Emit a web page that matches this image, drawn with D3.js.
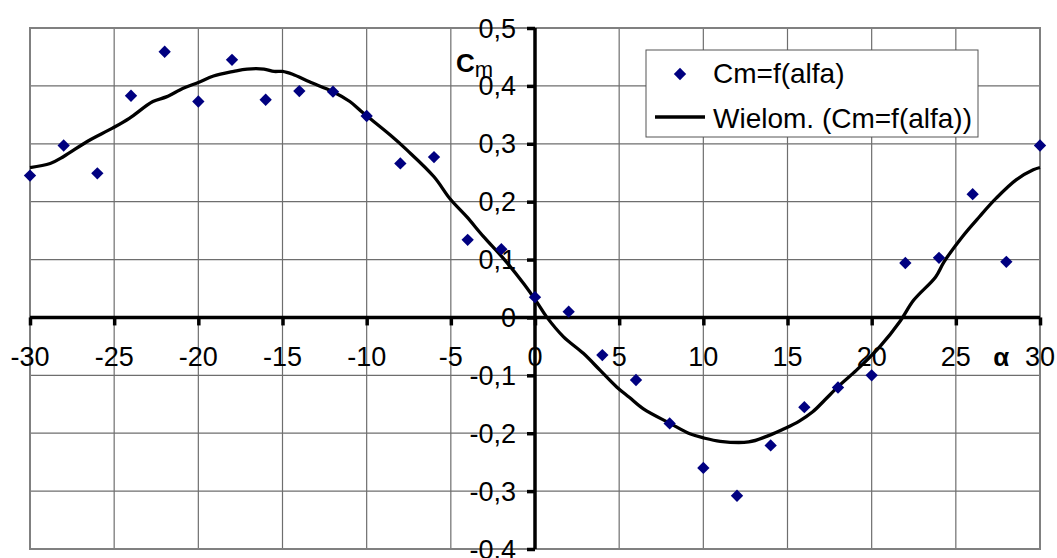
<!DOCTYPE html>
<html>
<head>
<meta charset="utf-8">
<script src="https://cdn.jsdelivr.net/npm/d3@7"></script>
<style>
  html, body { margin: 0; padding: 0; background: #fff; }
  svg text { font-family: "Liberation Sans", Arial, sans-serif; }
</style>
</head>
<body>
<svg id="chart" width="1057" height="558"></svg>
<script>
// Measured pitching-moment coefficient versus angle of attack
const alpha = [-30, -28, -26, -24, -22, -20, -18, -16, -14, -12, -10, -8, -6, -4, -2, 0,
               2, 4, 6, 8, 10, 12, 14, 16, 18, 20, 22, 24, 26, 28, 30];
const cm = [0.245, 0.297, 0.249, 0.383, 0.459, 0.373, 0.445, 0.376, 0.391, 0.390, 0.348,
            0.266, 0.277, 0.134, 0.118, 0.035, 0.010, -0.065, -0.108, -0.183, -0.260,
            -0.308, -0.221, -0.155, -0.121, -0.100, 0.094, 0.103, 0.213, 0.096, 0.297];

// Polynomial trendline ("Wielom.") as plotted
const trendAlpha = [-30, -28.8, -28, -26.6, -25.1, -24.1, -22.7, -21.9, -20.9, -20, -19.1,
                    -17.9, -17.1, -16.1, -15.5, -15.0, -14.4, -13.4, -12, -11, -10.2, -8.6,
                    -7.6, -6.0, -5.05, -4.06, -3.07, -1.88, -0.69, 0.1, 0.69, 1.68, 2.87,
                    3.86, 4.85, 5.6, 6.44, 8.02, 9.2, 10.0, 11.0, 12.7, 13.8, 14.9, 15.7,
                    16.5, 17.2, 18.1, 19.1, 20.5, 21.7, 22.5, 23.8, 24.3, 25.4, 26.4, 27.4,
                    28.6, 29.6, 30];
const trendCm = [0.259, 0.266, 0.278, 0.304, 0.327, 0.344, 0.373, 0.381, 0.396, 0.406, 0.417,
                 0.425, 0.429, 0.429, 0.425, 0.425, 0.420, 0.407, 0.390, 0.373, 0.353, 0.315,
                 0.289, 0.243, 0.205, 0.174, 0.140, 0.102, 0.059, 0.027, 0.001, -0.033, -0.062,
                 -0.091, -0.120, -0.138, -0.158, -0.183, -0.201, -0.208, -0.214, -0.215, -0.205,
                 -0.191, -0.179, -0.163, -0.143, -0.117, -0.091, -0.050, -0.006, 0.030, 0.070,
                 0.096, 0.140, 0.174, 0.206, 0.238, 0.255, 0.259];

const xTicks = [-30, -25, -20, -15, -10, -5, 0, 5, 10, 15, 20, 25, 30];
const yTicks = [-0.4, -0.3, -0.2, -0.1, 0, 0.1, 0.2, 0.3, 0.4, 0.5];
const seriesNames = ["Cm=f(alfa)", "Wielom. (Cm=f(alfa))"];

const svg = d3.select("#chart");
const plot = { left: 30, right: 1040, top: 28, bottom: 549 };

const x = d3.scaleLinear().domain([-30, 30]).range([plot.left, plot.right]);
const y = d3.scaleLinear().domain([-0.4, 0.5]).range([plot.bottom, plot.top]);
const fmtY = d => (d === 0 ? "0" : d.toFixed(1).replace(".", ","));

// Grid
const grid = svg.append("g").attr("stroke", "#6e6e6e").attr("stroke-width", 1.2);
grid.selectAll("line.v").data(xTicks).join("line")
  .attr("x1", d => x(d)).attr("x2", d => x(d))
  .attr("y1", plot.top).attr("y2", plot.bottom);
grid.selectAll("line.h").data(yTicks).join("line")
  .attr("x1", plot.left).attr("x2", plot.right)
  .attr("y1", d => y(d)).attr("y2", d => y(d));

// Plot frame
svg.append("rect")
  .attr("x", plot.left).attr("y", plot.top)
  .attr("width", plot.right - plot.left).attr("height", plot.bottom - plot.top)
  .attr("fill", "none").attr("stroke", "#808080").attr("stroke-width", 2);

// Axes crossing at the origin
const xAxis = d3.axisBottom(x).tickValues(xTicks).tickSize(8).tickFormat(() => "");
const yAxis = d3.axisLeft(y).tickValues(yTicks).tickSize(8).tickFormat(() => "");

const gx = svg.append("g").attr("transform", `translate(0,${y(0)})`).call(xAxis);
const gy = svg.append("g").attr("transform", `translate(${x(0)},0)`).call(yAxis);
[gx, gy].forEach(g => {
  g.select(".domain").attr("stroke", "#000").attr("stroke-width", 3.5);
  g.selectAll(".tick line").attr("stroke", "#000").attr("stroke-width", 3.5);
});
gx.select(".domain").attr("d", `M${plot.left},0H${plot.right}`);
gy.select(".domain").attr("d", `M0,${plot.top}V${plot.bottom}`);

// Trendline
const line = d3.line()
  .x((d, i) => x(trendAlpha[i])).y(d => y(d))
  .curve(d3.curveCatmullRom.alpha(0.5));
svg.append("path")
  .attr("d", line(trendCm))
  .attr("fill", "none").attr("stroke", "#000").attr("stroke-width", 3.3)
  .attr("stroke-linejoin", "round");

// Data markers
const diamond = d3.symbol().type(d3.symbolSquare).size(76);
svg.append("g").selectAll("path").data(cm).join("path")
  .attr("d", diamond)
  .attr("transform", (d, i) => `translate(${x(alpha[i])},${y(d)}) rotate(45)`)
  .attr("fill", "#000080");

// Tick labels
const labelFont = 27;
svg.append("g").selectAll("text").data(xTicks).join("text")
  .attr("x", d => x(d)).attr("y", y(0) + 49)
  .attr("text-anchor", "middle").attr("font-size", labelFont)
  .attr("fill", "#000")
  .text(d => String(d));

svg.append("g").selectAll("text").data(yTicks).join("text")
  .attr("x", x(0) - 19).attr("y", d => y(d) + 9.5)
  .attr("text-anchor", "end").attr("font-size", labelFont)
  .attr("fill", "#000")
  .text(fmtY);

// Axis titles
svg.append("text")
  .attr("x", x(27.7)).attr("y", y(0) + 49)
  .attr("text-anchor", "middle").attr("font-size", 26).attr("font-weight", "bold")
  .text("α");

const cmTitle = svg.append("text").attr("x", 456).attr("y", 72);
cmTitle.append("tspan").attr("font-size", 26).attr("font-weight", "bold").text("C");
cmTitle.append("tspan").attr("font-size", 22).attr("dy", 5).text("m");

// Legend
const legend = svg.append("g");
legend.append("rect")
  .attr("x", 646).attr("y", 50).attr("width", 332).attr("height", 87)
  .attr("fill", "#fff").attr("stroke", "#555").attr("stroke-width", 1);
legend.append("path")
  .attr("d", diamond)
  .attr("transform", "translate(680,74) rotate(45)")
  .attr("fill", "#000080");
legend.append("line")
  .attr("x1", 655).attr("x2", 705).attr("y1", 117).attr("y2", 117)
  .attr("stroke", "#000").attr("stroke-width", 3.3);
legend.selectAll("text").data(seriesNames).join("text")
  .attr("x", 713).attr("y", (d, i) => 83 + i * 45)
  .attr("font-size", 28).attr("fill", "#000")
  .text(d => d);
</script>
</body>
</html>
